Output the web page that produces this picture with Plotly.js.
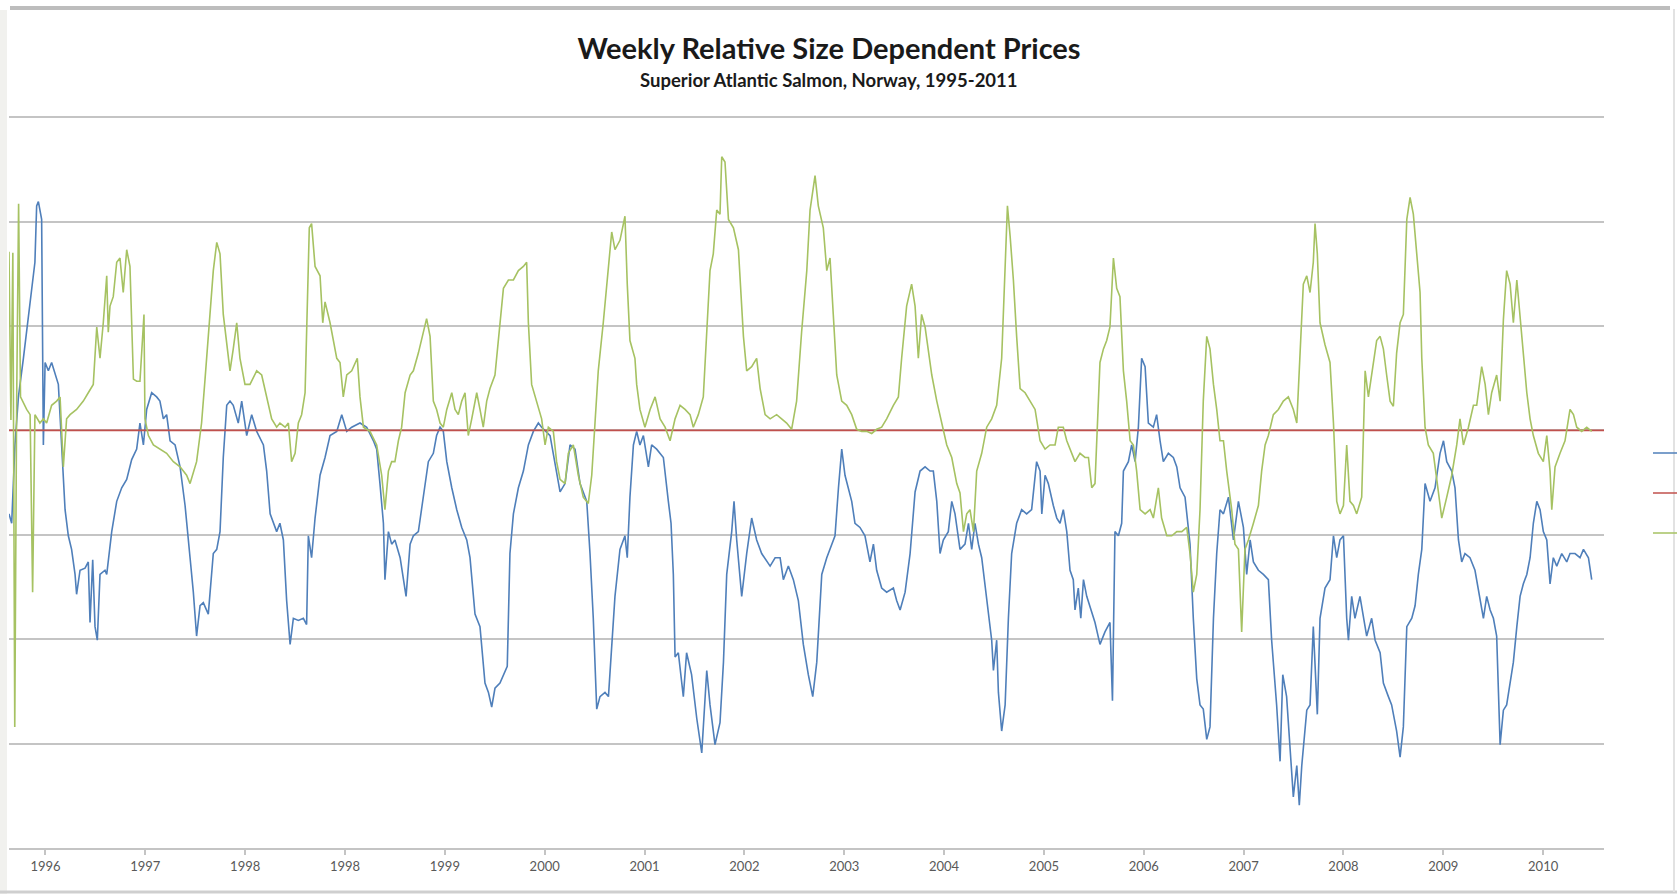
<!DOCTYPE html>
<html>
<head>
<meta charset="utf-8">
<script src="https://cdn.plot.ly/plotly-3.0.1.min.js"></script>
<style>
  html, body { margin: 0; padding: 0; background: #ffffff; }
  #chart { width: 1677px; height: 894px; }
</style>
</head>
<body>
<div id="chart"></div>
<script>
// ---- Data ----
const chartTitle = "Weekly Relative Size Dependent Prices";
const chartSubtitle = "Superior Atlantic Salmon, Norway, 1995-2011";

// x tick labels, one per tick (every 52 weeks)
const tickLabels = ["1996","1997","1998","1998","1999","2000","2001","2002",
                    "2003","2004","2005","2006","2007","2008","2009","2010"];

// Blue series: week index and relative price
const blueWeeks = [
 0,1.4,3.1,4.9,7.5,11,12.7,13.5,14.4,15.3,17,17.9,18.8,20.5,22.2,24,25.7,27.4,29.2,30.9,32.6,34.4,35.2,37,39.6,41.3,42.2,43.6,44.8,46,47.4,50,50.9,53.5,56.1,58.7,61.3,63.9,66.5,68.2,70,71.7,74.3,76.9,78.6,80.4,82.1,83.9,86.5,89.1,91.7,94.3,96,97.7,99.5,101.2,103.8,106.4,108.2,109.9,111.6,113.4,115.1,116.8,119.4,121.2,123.8,126.4,129,132.5,134.2,136,137.7,139.4,
 141.1,142.9,144.6,146.4,148.1,150.7,153.3,155,155.9,157.6,159.4,162,164.6,167.2,170.7,173.3,175.9,178.5,182.8,186.3,189.8,191.5,193.2,195,195.8,197.6,199.3,201,203.7,206.8,208.9,210.6,213.2,215.8,218.4,221,222.7,224.5,226.2,228,230.6,233.2,235.8,238.4,240.1,242.7,245.3,247.9,249.7,251.4,253.1,255.7,257.5,259.5,260.9,262.7,265.3,267.9,270.5,273.1,275.7,277.4,
 281.8,287,289.6,292.2,294.8,297.4,300.9,302.6,304.3,306.1,307.8,310.4,312.2,313.9,315.6,318.2,320.8,322,323.4,325.2,326.9,328.6,330.4,333,334.7,337.3,340.8,343.4,344.8,346,346.9,348.6,351.2,352.9,355.5,358.2,360.8,363.4,365.1,367.7,370.3,372.1,373.8,376.4,377.6,379,381.6,384.2,386.8,389.4,392,396.4,399,401.6,403.3,405.9,408.5,411.1,413.7,416.3,418.6,420.7,
 423.3,425.9,428.5,430.2,432,433.7,435.4,437.2,438.9,440.6,443.2,445.8,448.4,450.2,451.9,454.5,457.1,460.6,462.3,464.1,466.7,469.3,471.9,474.5,477.1,479.7,481.4,483.2,484.9,486.6,489.2,491,492.7,495.3,497.9,499.7,501.4,503.1,504.9,506.6,509.2,511.8,512.7,514.4,515.3,517,518.8,520.5,522.2,524.8,527.4,530,532.6,535.2,537,537.9,539.6,541.3,543.9,545.7,547.4,549.1,550.9,552.6,554.3,555.2,556.9,558.2,559.6,561.3,
 565.6,568.2,570.8,573.4,574.7,576,577.8,579.5,580.4,583,584.7,586.5,588.2,589.9,591.7,593.4,596,597.7,599.5,601.2,603.8,606.4,608.2,609.9,612.5,615.1,616.8,618.6,620.3,622,623.8,625.5,627.3,629,630.7,632.5,635.1,637.7,640.3,642.9,644.6,646.4,648.1,650.7,653.3,655.9,657.6,660.2,662,663.4,665.4,667.2,668.9,670.7,672,673.3,675.9,677.6,679.3,681.4,682.8,685.4,688,689.8,691.5,693.2,695,696.7,697.6,699.3,701,703.6,
 707.1,709.7,711.5,714.1,715.8,718.4,720.1,722.7,724.5,726.2,728,730.6,732.3,734,735.8,737.5,740.1,742.7,745.3,747.1,748.8,751.4,753.1,754.9,756.6,758.3,760.9,763.5,766.1,767.9,769.6,771.4,773.1,774.8,776.6,778.3,780,781.8,783.5,785.3,787,788.7,790.5,792.2,793.9,795.7,797.4,799.1,800.9,802.6,804.3,806.1,808.7,811.3,813,815.6,818.2,820,822.6,824.3
];
const blueValues = [
 -0.8,-0.89,-0.14,0.32,0.69,1.23,1.53,1.61,2.15,2.19,2.02,-0.14,0.65,0.57,0.65,0.53,0.44,-0.14,-0.76,-1.01,-1.14,-1.38,-1.57,-1.34,-1.32,-1.26,-1.84,-1.24,-1.88,-2.01,-1.38,-1.34,-1.38,-0.97,-0.68,-0.55,-0.47,-0.28,-0.18,0.07,-0.14,0.2,0.36,0.32,0.28,0.11,0.15,-0.1,-0.14,-0.35,-0.72,-1.22,-1.55,-1.97,-1.68,-1.65,-1.76,-1.18,-1.14,-0.97,-0.26,0.24,0.28,0.24,0.07,0.28,-0.05,0.15,-0.01,-0.14,-0.39,-0.8,-0.89,-0.97,
 -0.89,-1.05,-1.63,-2.05,-1.8,-1.82,-1.8,-1.86,-1.01,-1.22,-0.84,-0.43,-0.26,-0.05,-0.01,0.15,-0.01,0.03,0.07,0.03,-0.1,-0.18,-0.51,-0.89,-1.43,-0.97,-1.09,-1.05,-1.22,-1.59,-1.09,-1.01,-0.97,-0.64,-0.3,-0.22,-0.05,0.03,-0.01,-0.3,-0.55,-0.76,-0.93,-1.05,-1.22,-1.76,-1.88,-2.42,-2.51,-2.65,-2.47,-2.42,-2.34,-2.26,-1.18,-0.8,-0.55,-0.39,-0.14,-0.01,0.07,0.03,
 -0.05,-0.59,-0.51,-0.14,-0.18,-0.51,-0.68,-1.18,-1.8,-2.67,-2.55,-2.51,-2.55,-2.01,-1.59,-1.14,-1.01,-1.22,-0.64,-0.14,-0.01,-0.14,-0.05,-0.35,-0.14,-0.18,-0.26,-0.68,-0.89,-1.38,-2.17,-2.13,-2.55,-2.13,-2.34,-2.76,-3.09,-2.3,-2.63,-3.01,-2.8,-2.22,-1.38,-0.97,-0.68,-1.05,-1.59,-1.18,-0.84,-1.05,-1.18,-1.3,-1.22,-1.22,-1.43,-1.3,-1.43,-1.63,-2.05,-2.34,-2.55,-2.22,
 -1.38,-1.22,-1.09,-1.01,-0.55,-0.18,-0.43,-0.55,-0.68,-0.89,-0.93,-1.01,-1.26,-1.09,-1.34,-1.51,-1.55,-1.51,-1.63,-1.72,-1.55,-1.18,-0.59,-0.39,-0.35,-0.39,-0.39,-0.68,-1.18,-1.05,-0.97,-0.68,-0.8,-1.14,-1.09,-0.89,-1.14,-0.89,-1.09,-1.22,-1.59,-2.01,-2.3,-2.01,-2.51,-2.88,-2.63,-1.8,-1.18,-0.89,-0.76,-0.8,-0.76,-0.3,-0.39,-0.8,-0.43,-0.51,-0.72,-0.84,-0.89,-0.76,-0.97,-1.34,-1.43,-1.72,-1.51,-1.8,-1.43,-1.59,
 -1.84,-2.05,-1.93,-1.84,-2.59,-0.97,-1.01,-0.89,-0.39,-0.3,-0.14,-0.3,0.03,0.69,0.61,0.07,0.03,0.15,-0.1,-0.3,-0.22,-0.26,-0.35,-0.55,-0.64,-1.09,-1.8,-2.38,-2.63,-2.67,-2.96,-2.84,-1.8,-1.18,-0.76,-0.8,-0.64,-1.05,-0.68,-0.93,-1.38,-1.05,-1.26,-1.34,-1.38,-1.43,-2.01,-2.63,-3.17,-2.34,-2.55,-3.05,-3.51,-3.21,-3.59,-3.21,-2.68,-2.63,-1.88,-2.72,-1.8,-1.51,-1.43,-1.01,-1.22,-1.05,-1.01,-1.8,-2.01,-1.59,-1.8,-1.59,
 -1.97,-1.8,-2.01,-2.13,-2.42,-2.55,-2.63,-2.88,-3.13,-2.84,-1.88,-1.8,-1.68,-1.38,-1.14,-0.51,-0.68,-0.55,-0.22,-0.1,-0.3,-0.39,-0.55,-1.05,-1.26,-1.18,-1.22,-1.34,-1.63,-1.8,-1.59,-1.72,-1.8,-1.97,-3.01,-2.68,-2.63,-2.42,-2.22,-1.88,-1.59,-1.47,-1.38,-1.22,-0.89,-0.68,-0.76,-0.97,-1.05,-1.47,-1.22,-1.3,-1.18,-1.26,-1.18,-1.18,-1.22,-1.14,-1.22,-1.43
];

// Green series: week index and relative price
const greenWeeks = [
 0,1,2,3,4,5,6,9.2,11,12.3,13.5,16.1,17.9,19.6,22.2,24.8,26.6,28.3,30,31.8,35.2,38.7,41.3,43.9,45.7,47.4,49.1,50.9,51.7,52.6,54.3,56.1,57.8,59.5,61.3,63,64.8,66.5,68.2,70.3,70.8,72.6,75.2,78.6,82.1,85.6,89.1,92.5,94.3,97.7,100.3,102.1,103.8,106.4,108.2,109.9,111.6,113.4,115.1,116.8,118.6,120.3,122.9,125.5,129,131.6,134.2,136.8,139.4,
 141.1,143.8,145.5,147.2,149,150.7,152.4,154.2,155,156.4,157.6,159.4,162,163.4,164.6,167.2,170.7,172.4,174.1,175.9,178.5,180.2,181.4,182.8,184.6,188,191.5,194.1,195.8,197.6,199.3,201,202.8,204.5,206.3,208.9,210.6,213.2,215.8,217.5,219.3,221,222.7,224.5,226.2,228,230.6,232.3,234,235.8,237.5,239.2,241,243.6,245.3,247,248.8,250.5,253.1,255.7,257.5,260.1,262.7,265.3,267.9,269.6,270.5,272.2,274.8,277.4,279.2,280.9,
 283.5,285.2,287,289.6,291.3,293.9,296.5,299.1,301.7,303.5,305.2,306.9,309.5,311.3,313.9,315.6,318.2,320.8,322,323.4,326,326.9,328.6,331.2,333.9,336.5,339.1,341.7,344.3,346.9,349.5,352.1,354.7,356.4,359,361.6,363.4,365.1,366.8,368.6,370.3,371.2,372.9,374.7,377.3,379.9,382.5,384.2,386.8,389.4,391.2,393.8,396.4,399.8,402.4,405,407.6,410.2,412.8,415.5,417.2,
 419.8,421.5,424.1,425.9,427.6,429.3,431.1,433.7,436.3,438.9,441.5,444.1,446.7,449.3,451.9,454.5,457.1,460.6,463.2,464.9,467.5,470.1,471.9,473.6,475.3,477.1,478.8,480.6,483.2,485.8,488.4,491,493.6,495.3,497.1,498.8,500.5,502.3,504,506.6,509.2,511.8,514.4,517,518.8,520,521.4,523.1,524.8,526.6,529.2,531.8,534.4,537,539.6,542.2,544.8,546.5,549.1,550.9,552.6,555.2,557.8,560.4,
 562.2,563.9,565.6,567.4,568.2,570,571.7,573.4,575.2,576.9,578.6,580.4,582.1,583.9,585.6,587.3,589.1,591.7,594.3,596,598.6,600.3,603,605.6,608.2,610.8,613.4,615.1,616.8,618.6,620.3,622,623.8,625.5,627.3,629,630.7,632.5,634.2,636.8,638.5,640.3,642,643.7,645.5,648.1,650.7,652.4,654.2,655.9,658.5,661.1,663.7,666.3,668.9,670.7,672.4,674.1,675.9,677.6,679.3,680.2,681.4,682.8,685.4,688,689.8,691.5,693.2,695,696.7,698.4,700.2,701.9,
 704.5,706.3,708,709.7,712.3,714.1,715.8,717.5,719.3,721,722.7,724.5,726.2,728,729.7,731.4,733.2,734.9,735.8,737.5,739.2,741.8,743.6,746.2,748.8,751.4,754,755.7,757.5,760.1,762.7,764.4,767,768.8,770.5,772.2,774.8,776.6,778.3,780,781.8,783.5,785.3,787,788.7,790.5,792.2,793.9,796.5,799.1,800.9,802.6,803.5,805.2,807.8,810.4,813,814.8,816.5,819.1,821.7,824.3
];
const greenValues = [
 1.71,0.1,1.7,-2.84,0.3,2.17,0.32,0.2,0.15,-1.55,0.15,0.07,0.11,0.07,0.24,0.28,0.32,-0.35,0.11,0.15,0.2,0.28,0.36,0.44,0.99,0.69,1.03,1.48,0.94,1.19,1.28,1.61,1.65,1.32,1.73,1.57,0.49,0.47,0.47,1.11,0.11,-0.05,-0.14,-0.18,-0.22,-0.3,-0.35,-0.43,-0.51,-0.3,0.07,0.49,0.94,1.53,1.8,1.69,1.11,0.82,0.57,0.78,1.03,0.69,0.44,0.44,0.57,0.53,0.32,0.11,0.03,
 0.07,0.03,0.07,-0.3,-0.22,0.07,0.15,0.36,0.9,1.94,1.98,1.57,1.48,1.03,1.23,1.03,0.69,0.65,0.32,0.53,0.57,0.65,0.69,0.32,0.03,-0.01,-0.14,-0.43,-0.76,-0.39,-0.3,-0.3,-0.1,0.03,0.36,0.53,0.57,0.74,0.94,1.07,0.9,0.28,0.2,0.07,0.03,0.2,0.36,0.2,0.15,0.28,0.36,-0.05,0.11,0.36,0.2,0.03,0.28,0.4,0.53,1.03,1.36,1.44,1.44,1.53,1.57,1.61,1.03,0.44,0.28,0.11,-0.14,0.03,
 -0.01,-0.3,-0.47,-0.51,-0.22,-0.14,-0.43,-0.64,-0.7,-0.43,0.07,0.57,1.03,1.4,1.9,1.73,1.82,2.05,1.4,0.86,0.69,0.44,0.2,0.03,0.2,0.32,0.11,0.03,-0.1,0.11,0.24,0.2,0.15,0.03,0.15,0.32,0.9,1.53,1.69,2.11,2.07,2.62,2.57,2.02,1.94,1.73,0.9,0.57,0.61,0.69,0.4,0.15,0.11,0.15,0.11,0.07,0.01,0.28,0.94,1.53,2.11,
 2.44,2.15,1.94,1.53,1.65,1.11,0.53,0.28,0.24,0.15,0.01,-0.01,-0.01,-0.03,0.01,0.03,0.11,0.24,0.32,0.69,1.19,1.4,1.19,0.69,1.11,0.99,0.78,0.53,0.28,0.07,-0.14,-0.26,-0.51,-0.6,-0.97,-0.8,-0.76,-0.97,-0.39,-0.22,0.03,0.11,0.24,0.69,1.53,2.15,1.86,1.44,0.9,0.4,0.36,0.28,0.2,-0.1,-0.18,-0.14,-0.14,0.03,0.03,-0.1,-0.18,-0.3,-0.22,-0.26,
 -0.26,-0.55,-0.51,0.2,0.65,0.78,0.86,0.99,1.65,1.36,1.28,0.57,0.28,-0.1,-0.14,-0.39,-0.76,-0.8,-0.76,-0.84,-0.55,-0.84,-1.01,-1.01,-0.97,-0.97,-0.93,-1.18,-1.55,-1.38,-0.76,0.28,0.9,0.78,0.44,0.2,-0.1,-0.1,-0.39,-0.76,-1.09,-1.14,-1.93,-1.14,-1.05,-0.89,-0.72,-0.39,-0.14,-0.05,0.15,0.2,0.28,0.32,0.2,0.07,0.69,1.4,1.48,1.32,1.61,1.98,1.69,1.03,0.82,0.65,0.07,-0.68,-0.8,-0.72,-0.14,-0.68,-0.72,-0.8,
 -0.64,0.57,0.32,0.53,0.86,0.9,0.78,0.53,0.28,0.23,0.74,1.03,1.11,2.02,2.23,2.07,1.69,1.32,0.69,0.03,-0.14,-0.22,-0.47,-0.84,-0.64,-0.43,-0.14,0.11,-0.14,0.03,0.24,0.24,0.61,0.44,0.15,0.36,0.53,0.28,1.06,1.53,1.4,1.03,1.44,1.11,0.74,0.36,0.11,-0.05,-0.22,-0.3,-0.05,-0.39,-0.76,-0.35,-0.22,-0.1,0.2,0.15,0.03,-0.01,0.03,-0.01
];

// Reference (red) series: zero deviation level
const baselineValue = 0;

// ---- Axis scale settings ----
const weekRange = [0, 830.7];
const firstTickWeek = 19;
const weeksPerTick = 52;
const tickVals = tickLabels.map((_, i) => firstTickWeek + i * weeksPerTick);
const yRange = [-4, 3.02];

const COLORS = { blue: "#4F7FBA", red: "#C0504D", green: "#A6C262", grid: "#C4C4C4" };

const traces = [
  { x: blueWeeks, y: blueValues, type: "scatter", mode: "lines", name: " ",
    legendgroup: "b", line: { color: COLORS.blue, width: 1.6 }, hoverinfo: "x+y" },
  { x: weekRange, y: weekRange.map(() => baselineValue), type: "scatter", mode: "lines", name: " ",
    legendgroup: "r", line: { color: COLORS.red, width: 1.6 }, hoverinfo: "y" },
  { x: greenWeeks, y: greenValues, type: "scatter", mode: "lines", name: " ",
    legendgroup: "g", line: { color: COLORS.green, width: 1.6 }, hoverinfo: "x+y" }
];

const W = 1677, H = 894;
const plotL = 9, plotR = 1604, plotB = 848;
const unitPx = 731 / 7;                       // pixels per y unit
const plotT = Math.round(plotB - unitPx * (yRange[1] - yRange[0]));
const px = v => (v - plotL) / (plotR - plotL);
const py = v => (plotB - v) / (plotB - plotT);

const layout = {
  width: W, height: H,
  margin: { l: plotL, r: W - plotR, t: plotT, b: H - plotB, pad: 0, autoexpand: false },
  paper_bgcolor: "#ffffff",
  plot_bgcolor: "#ffffff",
  font: { family: "Lato, 'Open Sans', sans-serif", color: "#595959" },
  title: {
    text: "<b>" + chartTitle + "</b>",
    font: { family: "Lato, 'Open Sans', sans-serif", size: 29, color: "#1a1a1a" },
    x: 829 / W, xref: "container", xanchor: "center",
    y: 1 - 49 / H, yref: "container", yanchor: "middle"
  },
  annotations: [{
    text: "<b>" + chartSubtitle + "</b>",
    xref: "paper", yref: "paper", x: px(829), y: py(80), xanchor: "center", yanchor: "middle",
    showarrow: false, font: { family: "Lato, 'Open Sans', sans-serif", size: 18.5, color: "#1a1a1a" }
  }],
  xaxis: {
    range: weekRange, tickmode: "array", tickvals: tickVals, ticktext: tickLabels,
    showgrid: false, zeroline: false, showline: true, linecolor: COLORS.grid, linewidth: 2,
    ticks: "outside", ticklen: 5, tickcolor: COLORS.grid, tickwidth: 1.5,
    tickfont: { size: 13, color: "#595959" }, fixedrange: true
  },
  yaxis: {
    range: yRange, dtick: 1, tick0: 0, showticklabels: false, ticks: "",
    showgrid: true, gridcolor: COLORS.grid, gridwidth: 2, zeroline: false, showline: false,
    fixedrange: true
  },
  showlegend: true,
  legend: {
    x: px(1648), xanchor: "left", y: py(493), yanchor: "middle",
    bgcolor: "rgba(0,0,0,0)", borderwidth: 0, font: { size: 12 },
    tracegroupgap: 21, traceorder: "grouped"
  },
  shapes: [
    { type: "line", xref: "paper", yref: "paper", x0: px(10), x1: px(1670), y0: py(8), y1: py(8),
      line: { color: "#BDBDBD", width: 4 }, layer: "above" },
    { type: "line", xref: "paper", yref: "paper", x0: px(0), x1: px(1677), y0: py(892), y1: py(892),
      line: { color: "#CFCFCF", width: 3 }, layer: "above" },
    { type: "line", xref: "paper", yref: "paper", x0: px(1674), x1: px(1674), y0: py(9), y1: py(892),
      line: { color: "#E2E2E2", width: 2 }, layer: "above" },
    { type: "rect", xref: "paper", yref: "paper", x0: px(0), x1: px(7), y0: py(10), y1: py(894),
      fillcolor: "#F1F1EE", line: { width: 0 }, layer: "below" }
  ]
};

Plotly.newPlot("chart", traces, layout, { displayModeBar: false, responsive: false });
</script>
</body>
</html>
